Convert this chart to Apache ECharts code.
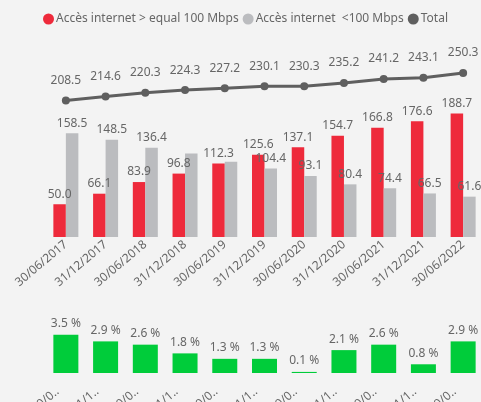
<!DOCTYPE html>
<html><head><meta charset="utf-8">
<script src="https://cdn.jsdelivr.net/npm/echarts@6/dist/echarts.min.js"></script>
<style>html,body{margin:0;padding:0;background:#f3f3f3}#c{width:481px;height:402px}</style>
</head><body><div id="c"></div>
<script>
const categories = ['30/06/2017','31/12/2017','30/06/2018','31/12/2018','30/06/2019','31/12/2019','30/06/2020','31/12/2020','30/06/2021','31/12/2021','30/06/2022'];
const over100 = [50.0, 66.1, 83.9, 96.8, 112.3, 125.6, 137.1, 154.7, 166.8, 176.6, 188.7];
const under100 = [158.5, 148.5, 136.4, 127.5, 114.9, 104.4, 93.1, 80.4, 74.4, 66.5, 61.6];
const total = [208.5, 214.6, 220.3, 224.3, 227.2, 230.1, 230.3, 235.2, 241.2, 243.1, 250.3];
const growth = [3.5, 2.9, 2.6, 1.8, 1.3, 1.3, 0.1, 2.1, 2.6, 0.8, 2.9];
const hiddenUnderLabels = [3, 4];

const font = 'Noto Sans';
const txt = '#666';
const chart = echarts.init(document.getElementById('c'));
chart.setOption({
  backgroundColor: '#f3f3f3',
  textStyle: {fontFamily: font},
  animation: false,
  legend: {
    top: 8, left: 38, itemGap: 4, itemWidth: 11, itemHeight: 11, icon: 'circle',
    textStyle: {color: txt, fontSize: 12, fontFamily: font, padding: [0,0,0,-3]},
    data: ['Accès internet > equal 100 Mbps', 'Accès internet  <100 Mbps', 'Total']
  },
  grid: [
    {left: 46, width: 437, top: 40.5, height: 196.5, containLabel: false, outerBoundsMode: 'none'},
    {left: 46, width: 437, top: 329.4, height: 43.6, containLabel: false, outerBoundsMode: 'none'}
  ],
  xAxis: [
    {gridIndex: 0, type: 'category', data: categories, axisLine: {show: false}, axisTick: {show: false},
     axisLabel: {rotate: 40, color: txt, fontSize: 12, fontFamily: font, margin: 6, interval: 0}},
    {gridIndex: 1, type: 'category', data: categories, axisLine: {show: false}, axisTick: {show: false},
     axisLabel: {rotate: 40, color: txt, fontSize: 12, fontFamily: font, margin: 10, interval: 0, width: 34, overflow: 'truncate', ellipsis: '..', padding: [0, 11, 0, 0]}}
  ],
  yAxis: [
    {gridIndex: 0, type: 'value', min: 0, max: 300, show: false, splitLine: {show: false}},
    {gridIndex: 1, type: 'value', min: 0, max: 4, show: false, splitLine: {show: false}}
  ],
  series: [
    {name: 'Accès internet > equal 100 Mbps', type: 'bar', xAxisIndex: 0, yAxisIndex: 0, data: over100,
     barWidth: 12.5, barGap: '0%', itemStyle: {color: '#ee2a3b'},
     label: {show: true, position: 'top', distance: 4, color: txt, fontSize: 12, fontFamily: font, formatter: p => p.value.toFixed(1)}},
    {name: 'Accès internet  <100 Mbps', type: 'bar', xAxisIndex: 0, yAxisIndex: 0,
     data: under100.map((v, i) => hiddenUnderLabels.includes(i) ? {value: v, label: {show: false}} : v),
     barWidth: 12.5, barGap: '0%', itemStyle: {color: '#bbbcbf'},
     label: {show: true, position: 'top', distance: 4, color: txt, fontSize: 12, fontFamily: font, formatter: p => p.value.toFixed(1)}},
    {name: 'Total', type: 'line', xAxisIndex: 0, yAxisIndex: 0, data: total, z: 5,
     symbol: 'circle', symbolSize: 8, lineStyle: {width: 3, color: '#5f5f5f'}, itemStyle: {color: '#5f5f5f'},
     label: {show: true, position: 'top', distance: 10, color: txt, fontSize: 12, fontFamily: font, formatter: p => p.value.toFixed(1)}},
    {name: 'growth', type: 'bar', xAxisIndex: 1, yAxisIndex: 1, data: growth, barWidth: 25,
     itemStyle: {color: '#00cc3a'},
     label: {show: true, position: 'top', distance: 5, color: txt, fontSize: 12, fontFamily: font, formatter: p => p.value.toFixed(1) + ' %'}}
  ]
});
</script></body></html>
